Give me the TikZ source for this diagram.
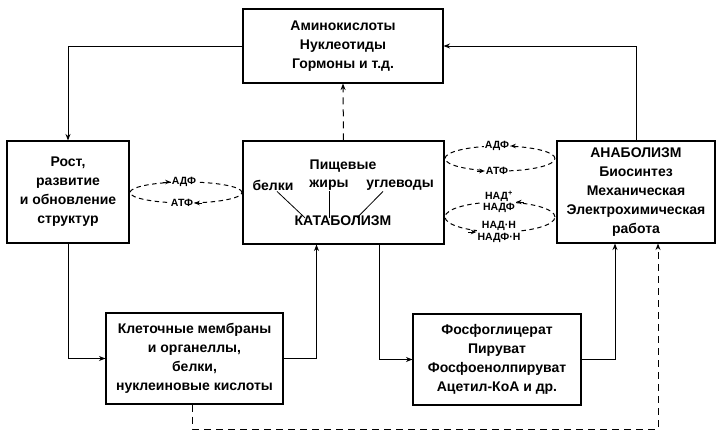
\documentclass[tikz,border=0pt]{standalone}
\usepackage{fontspec}
\setmainfont{Liberation Sans}
\usetikzlibrary{arrows.meta}

\begin{document}
\begin{tikzpicture}[x=1pt,y=-1pt]
\tikzstyle{box}=[draw,line width=1.1pt,align=center,inner sep=0pt,font=\fontsize{14}{19}\selectfont\bfseries];
\tikzstyle{txt}=[inner sep=1pt,font=\fontsize{14}{19}\selectfont\bfseries];
\tikzstyle{lnk}=[line width=1pt,-{Stealth[length=6.5pt,width=5pt]}];
\tikzstyle{dsh}=[lnk,dash pattern=on 7pt off 5pt];
\tikzstyle{cyc}=[line width=1pt,dash pattern=on 4.5pt off 3.5pt];
\tikzstyle{lbl}=[fill=white,inner sep=1pt,align=center,font=\fontsize{10.5}{11.5}\selectfont\bfseries];
\tikzstyle{tip}=[line width=1pt,-{Stealth[length=5.5pt,width=4.5pt]}];
\useasboundingbox (0,0) rectangle (721,439);

% boxes
\node[box,minimum width=200pt,minimum height=74pt] (amino) at (343,46) {Аминокислоты\\Нуклеотиды\\Гормоны и т.д.};
\node[box,minimum width=122pt,minimum height=102pt] (rost) at (68,192) {Рост,\\развитие\\и обновление\\структур};
\node[box,minimum width=201pt,minimum height=103pt] (katab) at (343.5,192.5) {};
\node[box,minimum width=158pt,minimum height=102pt] (anab) at (636,192) {АНАБОЛИЗМ\\Биосинтез\\Механическая\\Электрохимическая\\работа};
\node[box,minimum width=177pt,minimum height=91pt] (kletki) at (194.5,358.5) {Клеточные мембраны\\и органеллы,\\белки,\\нуклеиновые кислоты};
\node[box,minimum width=168pt,minimum height=91pt] (fosfo) at (497,359.5) {Фосфоглицерат\\Пируват\\Фосфоенолпируват\\Ацетил-КоА и др.};

% inside catabolism
\node[txt] (pish) at (343,166) {Пищевые};
\node[txt] (belki) at (273,185) {белки};
\node[txt] (zhiry) at (329,185) {жиры};
\node[txt] (uglev) at (400,185) {углеводы};
\node[txt] (katlbl) at (343,221) {КАТАБОЛИЗМ};
\draw[line width=0.8pt] ([xshift=4pt]belki.south) -- ([xshift=-38pt,yshift=-3pt]katlbl.north);
\draw[line width=0.8pt] (zhiry.south) -- ([yshift=-3pt]zhiry.south |- katlbl.north);
\draw[line width=0.8pt] ([xshift=-17pt]uglev.south) -- ([xshift=14pt,yshift=-3pt]katlbl.north);

% connectors
\draw[lnk] (amino.west) -| (rost.north);
\draw[lnk] (anab.north) |- (amino.east);
\draw[dsh] (katab.north) -- (amino.south);
\draw[lnk] (rost.south) |- (kletki.west);
\draw[lnk] (kletki.east) -| ([xshift=-27pt]katab.south);
\draw[lnk] ([xshift=36pt]katab.south) |- (fosfo.west);
\draw[lnk] (fosfo.east) -| ([xshift=-21pt]anab.south);
\coordinate (bot) at (658,429);
\draw[dsh] ([xshift=-2pt]kletki.south) |- (bot) -- ([xshift=22pt]anab.south);

% ATP cycles
\draw[cyc] (186,192.5) ellipse [x radius=56pt, y radius=10.5pt];
\node[lbl] (adf1) at (184,182) {АДФ};
\node[lbl] (atf1) at (182,203) {АТФ};
\draw[tip] ([xshift=-8pt]adf1.west) -- (adf1.west);
\draw[tip] ([xshift=8pt]atf1.east) -- (atf1.east);

\draw[cyc] (500,158.5) ellipse [x radius=55pt, y radius=12.5pt];
\node[lbl] (adf2) at (497,146) {АДФ};
\node[lbl] (atf2) at (497,171) {АТФ};
\draw[tip] ([xshift=8pt]adf2.east) -- (adf2.east);
\draw[tip] ([xshift=-8pt]atf2.west) -- (atf2.west);

\draw[cyc] (500,217) ellipse [x radius=55pt, y radius=15pt];
\node[lbl] (nad1) at (499,202) {НАД\textsuperscript{+}\\НАДФ};
\node[lbl] (nad2) at (499,232) {НАД·Н\\НАДФ·Н};
\draw[tip] ([xshift=8pt]nad1.east) -- (nad1.east);
\draw[tip] ([xshift=-8pt]nad2.west) -- (nad2.west);
\end{tikzpicture}
\end{document}
